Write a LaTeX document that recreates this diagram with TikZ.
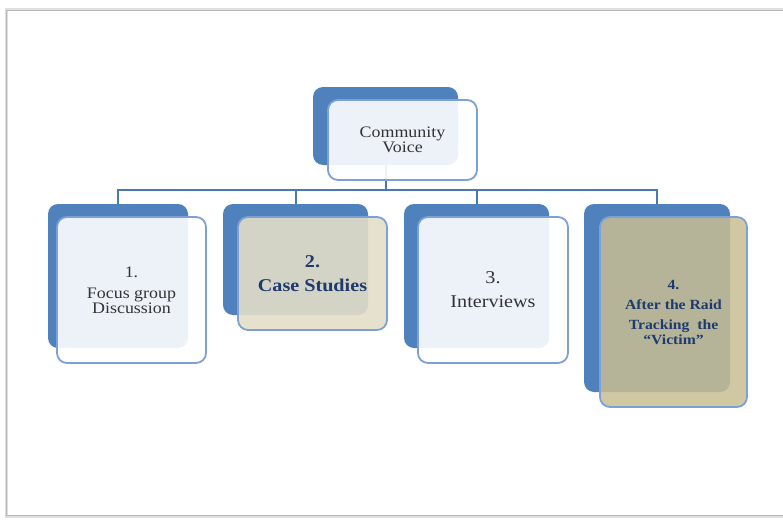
\documentclass[tikz,border=0pt]{standalone}
\usepackage{fontspec}
\setmainfont{Liberation Serif}[FakeStretch=1.12]
\usetikzlibrary{positioning}
\definecolor{officeblue}{HTML}{4F81BD}
\definecolor{edgeblue}{HTML}{7DA1D4}
\definecolor{linkblue}{HTML}{4A78B4}
\definecolor{navy}{HTML}{1F3A6E}
\definecolor{inkgray}{HTML}{333333}
\definecolor{palefill}{HTML}{FFFFFF}
\definecolor{olivelight}{RGB}{226,222,200}
\definecolor{olivedark}{RGB}{200,190,146}

\begin{document}
\begin{tikzpicture}[x=1pt,y=-1pt,
  backbox/.style={rectangle, rounded corners=10pt, fill=officeblue, inner sep=0pt},
  frontbox/.style={rectangle, rounded corners=10pt, draw=edgeblue, line width=1.8pt,
    fill=palefill, fill opacity=0.9, text opacity=1, inner sep=0pt, align=center, text=inkgray},
  olivebox/.style={frontbox, fill=olivelight, text=navy},
  link/.style={draw=linkblue, line width=2pt}]
	\useasboundingbox (0,0) rectangle (783,519);
	% page frame
	\draw [gray!25, line width=3pt] (795,10) -- (6,10) -- (6,516) -- (795,516);
	\draw [gray!55, line width=1pt] (795,10.5) -- (6.5,10.5) -- (6.5,515.5) -- (795,515.5);
	
	% back plates
	\node [backbox, minimum width=145pt, minimum height=78pt] (topback) at (385.5,126) {};
	\node [backbox, minimum width=140pt, minimum height=144pt] (back1) at (118,276) {};
	\node [backbox, minimum width=145pt, minimum height=111pt] (back2) at (295.5,259.5) {};
	\node [backbox, minimum width=145pt, minimum height=144pt] (back3) at (476.5,276) {};
	\node [backbox, minimum width=146pt, minimum height=188pt] (back4) at (657,298) {};
	
	% tree lines
	\draw [link] (topback.south) -- ++(0,25) coordinate (bus);
	\draw [link] (bus) -| (back1.north);
	\draw [link] (bus) -| (back2.north);
	\draw [link] (bus) -| (back3.north);
	\draw [link] (bus) -| (back4.north);
	
	% front cards
	\node [frontbox, minimum width=149pt, minimum height=80pt, font=\fontsize{16}{15}\selectfont]
		(topfront) at (402.5,140) {Community\\Voice};
	\node [frontbox, minimum width=149pt, minimum height=146pt, font=\fontsize{16}{15}\selectfont]
		(front1) at (131.5,290) {1.\\[6pt]Focus group\\Discussion};
	\node [olivebox, minimum width=149pt, minimum height=113pt, font=\fontsize{18}{20}\selectfont\bfseries]
		(front2) at (312.5,273.5) {2.\\[4pt]Case Studies};
	\node [frontbox, minimum width=150pt, minimum height=146pt, font=\fontsize{18}{24}\selectfont]
		(front3) at (493,290) {3.\\Interviews};
	\node [olivebox, fill=olivedark, fill opacity=0.85, minimum width=147pt, minimum height=190pt,
		font=\fontsize{14}{15}\selectfont\bfseries]
		(front4) at (673.5,312) {4.\\[5pt]After the Raid\\[5pt]Tracking\ \ the\\“Victim”};
\end{tikzpicture}
\end{document}
